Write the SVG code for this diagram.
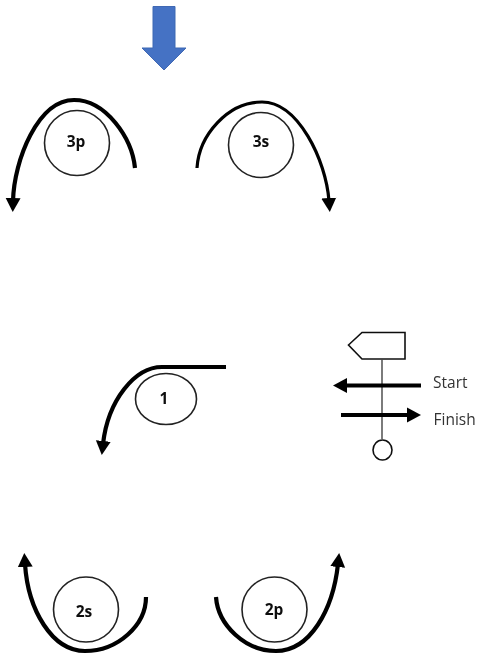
<svg xmlns="http://www.w3.org/2000/svg" width="480" height="658" viewBox="0 0 480 658">
<style>
.c{fill:none;stroke:#000;stroke-width:4.200}
.t{fill:none;stroke:#000;stroke-width:3.200}
.n{fill:#fff;stroke:#222;stroke-width:1.600}
.p{fill:none;stroke:#444;stroke-width:1.400}
.b{font-family:"Open Sans",sans-serif;font-size:15.500px;font-weight:700;fill:#111;text-anchor:middle}
.l{font-family:"Open Sans",sans-serif;font-size:15.500px;fill:#333}
</style>
<defs>
<marker id="h" markerUnits="userSpaceOnUse" markerWidth="16" markerHeight="18" refX="3" refY="8.500" orient="auto"><path d="M0 1 L14 8.500 L0 16 Z" fill="#000"/></marker>
<filter id="soft" filterUnits="userSpaceOnUse" x="0" y="0" width="480" height="658"><feGaussianBlur stdDeviation="0.5"/></filter>
</defs>
<g filter="url(#soft)">
<g id="entry"><path d="M153 6.500H175V48H186L164 70L142 48H153Z" fill="#4472c4" stroke="#3f68b3"/></g>
<g id="n3p"><circle class="n" cx="77" cy="143" r="32.500"/><text class="b" x="76" y="147">3p</text></g>
<g id="n3s"><circle class="n" cx="261" cy="145" r="32.500"/><text class="b" x="261" y="147">3s</text></g>
<g id="n1"><ellipse class="n" cx="166" cy="399" rx="30.500" ry="25.500"/><text class="b" x="164" y="404">1</text></g>
<g id="n2s"><circle class="n" cx="86" cy="609.500" r="32.500"/><text class="b" x="84" y="617">2s</text></g>
<g id="n2p"><circle class="n" cx="274.500" cy="609.500" r="32.500"/><text class="b" x="274" y="615">2p</text></g>
<g id="legend">
<path d="M348.500 345L362 332.500H405V359H362Z" fill="#fff" stroke="#111" stroke-width="1.600"/>
<line class="p" x1="382" y1="359" x2="382" y2="439"/>
<ellipse cx="382.500" cy="450" rx="9.500" ry="10" fill="#fff" stroke="#111" stroke-width="1.600"/>
<text class="l" x="433" y="387.500">Start</text>
<text class="l" x="433.500" y="425">Finish</text>
</g>
<g id="connectors">
<path class="c" marker-end="url(#h)" d="M135 168C132 138 106 100 74 100C38 100 14 160 13 201"/>
<path class="t" marker-end="url(#h)" d="M197 168C199 135 228 102 262 102C298 102 326 160 329 201"/>
<path class="c" marker-end="url(#h)" d="M226 367H162C135 367 108 400 103 444"/>
<path class="c" marker-end="url(#h)" d="M146 597C146 625 118 651 85 651C52 651 28 610 25 564"/>
<path class="c" marker-end="url(#h)" d="M216 597C218 625 245 651 276 651C310 651 333 610 338 564"/>
<path class="c" marker-end="url(#h)" d="M421 385.500H344"/>
<path class="c" marker-end="url(#h)" d="M341 415H410"/>
</g>
</g>
</svg>
